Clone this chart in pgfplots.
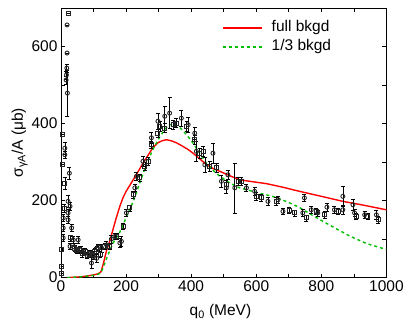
\documentclass[border=0pt]{standalone}
\usepackage{pgfplots}
\pgfplotsset{compat=1.18}
\usepackage{fontspec}
\setmainfont{Liberation Sans}
\definecolor{myred}{RGB}{255,0,0}
\definecolor{mygreen}{RGB}{0,190,0}
\begin{document}
\begin{tikzpicture}
\begin{axis}[
 scale only axis, width=326pt, height=270pt,
 xmin=0, xmax=1000, ymin=0, ymax=700,
 xtick={0,200,...,1000}, ytick={0,200,400,600}, minor tick num=1,
 tick align=inside, major tick length=4pt, minor tick length=4pt,
 tick style={black, line width=0.6pt},
 axis line style={line width=0.8pt},
 /pgf/number format/assume math mode=true,
 /pgf/number format/set thousands separator={},
 tick label style={font=\fontsize{15.5}{17}\selectfont},
 label style={font=\fontsize{15.5}{17}\selectfont},
 xlabel={q\textsubscript{0} (MeV)},
 ylabel={σ\textsubscript{γA}/A (μb)},
 xlabel style={at={(axis description cs:0.49,-0.126)}, anchor=center},
 ylabel style={at={(axis description cs:-0.127,0.5)}, anchor=center},
 error bars/error bar style={black, line width=0.6pt},
 error bars/error mark options={rotate=90, mark size=2pt, line width=0.6pt, black},
]
\addplot[myred, line width=1.4pt] coordinates {
(20,0)(40,1)(60,2)(80,4)(100,7)(115,10)(123,15)(130,35)(140,70)(150,95)(160,125)(170,155)(181,185)(191,208)(201,225)(212,240)(222,254)(237,275)(252,297)(268,318)(283,338)(298,350)(310,355)(324,358)(340,355)(355,350)(370,343)(390,333)(406,323)(427,308)(447,293)(468,283)(488,276)(520,264)(549,254)(580,250)(631,244)(680,235)(733,224)(800,211)(866,198)(930,188)(1000,176)};
\addplot[mygreen, line width=1.4pt, dash pattern=on 3pt off 3pt] coordinates {
(20,0)(40,1)(60,2)(80,4)(100,6)(115,9)(122,12)(128,22)(135,38)(145,60)(160,90)(170,103)(181,118)(191,137)(205,165)(222,197)(242,245)(263,295)(284,335)(304,366)(320,386)(335,397)(350,399)(365,390)(385,372)(406,349)(427,322)(447,297)(468,278)(488,263)(520,245)(549,233)(580,226)(610,219)(631,215)(662,208)(700,195)(733,182)(770,163)(805,146)(850,125)(887,108)(940,88)(1000,73)};
\addplot[only marks, mark=square, mark size=2pt, mark options={draw=black!85, fill=white, line width=0.9pt},
 error bars/.cd, y dir=both, y explicit] coordinates {
(2,12)+-(0,0) (2,30)+-(0,0) (3,73)+-(0,5) (4,371)+-(0,0) (5,293)+-(0,0) (22,686)+-(0,0) (10,180)+-(0,10) (12,245)+-(0,15)
(28,103)+-(0,8) (43,77)+-(0,8) (48,70)+-(0,8) (58,73)+-(0,8) (65,62)+-(0,8) (74,68)+-(0,8) (80,58)+-(0,8) (89,64)+-(0,8) (96,60)+-(0,8)
(104,68)+-(0,8) (110,72)+-(0,8) (115,78)+-(0,8) (120,60)+-(0,8) (135,81)+-(0,8) (150,81)+-(0,8) (171,107)+-(0,8) (191,133)+-(0,8)
(212,181)+-(0,8) (222,215)+-(0,10) (242,259)+-(0,10) (258,289)+-(0,10) (268,302)+-(0,10) (278,345)+-(0,10) (298,375)+-(0,10)
(304,393)+-(0,12) (319,388)+-(0,12) (345,397)+-(0,12) (355,401)+-(0,12) (386,393)+-(0,12) (411,358)+-(0,12) (426,323)+-(0,12)
(437,328)+-(0,12) (457,289)+-(0,12) (478,285)+-(0,12) (508,241)+-(0,12) (544,250)+-(0,10) (554,250)+-(0,10) (600,211)+-(0,10)
(616,207)+-(0,10) (662,198)+-(0,10) (702,174)+-(0,8) (718,168)+-(0,8) (754,155)+-(0,8) (785,172)+-(0,8) (810,163)+-(0,8)
(851,172)+-(0,8) (907,159)+-(0,8) (943,159)+-(0,8) (974,150)+-(0,10)};
\addplot[only marks, mark=o, mark size=2pt, mark options={draw=black!85, fill=white, line width=0.9pt},
 error bars/.cd, y dir=both, y explicit] coordinates {
(12,336)+-(0,15) (12,319)+-(0,10) (19,656)+-(0,0) (19,583)+-(0,0) (18,544)+-(0,10) (17,526)+-(0,10) (16,513)+-(0,10) (20,479)+-(0,60)
(26,271)+-(0,15) (22,198)+-(0,15) (28,185)+-(0,10) (22,168)+-(0,10) (7,155)+-(0,10) (22,150)+-(0,10) (7,129)+-(0,10) (33,129)+-(0,10)
(7,103)+-(0,10) (38,98)+-(0,10) (53,98)+-(0,10) (28,81)+-(0,8) (40,80)+-(0,10) (50,70)+-(0,8) (62,72)+-(0,8) (70,65)+-(0,8)
(85,60)+-(0,8) (94,38)+-(0,15) (100,55)+-(0,8) (110,50)+-(0,10) (125,77)+-(0,10) (140,85)+-(0,10) (155,100)+-(0,10)
(166,107)+-(0,8) (181,90)+-(0,12) (186,94)+-(0,12) (201,168)+-(0,10) (227,233)+-(0,10) (232,263)+-(0,10) (252,302)+-(0,12)
(278,363)+-(0,15) (298,406)+-(0,20) (319,419)+-(0,25) (334,427)+-(0,40) (370,414)+-(0,20) (391,397)+-(0,20) (411,375)+-(0,15)
(416,328)+-(0,25) (442,293)+-(0,20) (467,323)+-(0,25) (493,250)+-(0,15) (508,233)+-(0,15) (513,267)+-(0,12) (534,233)+-(0,65)
(570,233)+-(0,10) (595,224)+-(0,10) (636,198)+-(0,10) (667,202)+-(0,10) (682,172)+-(0,8) (743,168)+-(0,10) (748,207)+-(0,10)
(769,176)+-(0,10) (789,168)+-(0,8) (817,183)+-(0,10) (840,176)+-(0,10) (866,211)+-(0,25) (866,176)+-(0,12) (897,189)+-(0,15)
(902,168)+-(0,10) (933,163)+-(0,10) (969,163)+-(0,12)};
% legend
\draw[myred, line width=1.4pt] (axis description cs:0.497,0.926) -- (axis description cs:0.617,0.926);
\node[anchor=west, inner sep=0pt, font=\fontsize{15.5}{17}\selectfont] at (axis description cs:0.647,0.926) {full bkgd};
\draw[mygreen, line width=1.4pt, dash pattern=on 3pt off 3pt] (axis description cs:0.497,0.856) -- (axis description cs:0.617,0.856);
\node[anchor=west, inner sep=0pt, font=\fontsize{15.5}{17}\selectfont] at (axis description cs:0.647,0.856) {1/3 bkgd};
\end{axis}
\path ([xshift=-61pt,yshift=-49pt]current axis.south west) rectangle ([xshift=20pt,yshift=8pt]current axis.north east);
\end{tikzpicture}
\end{document}
